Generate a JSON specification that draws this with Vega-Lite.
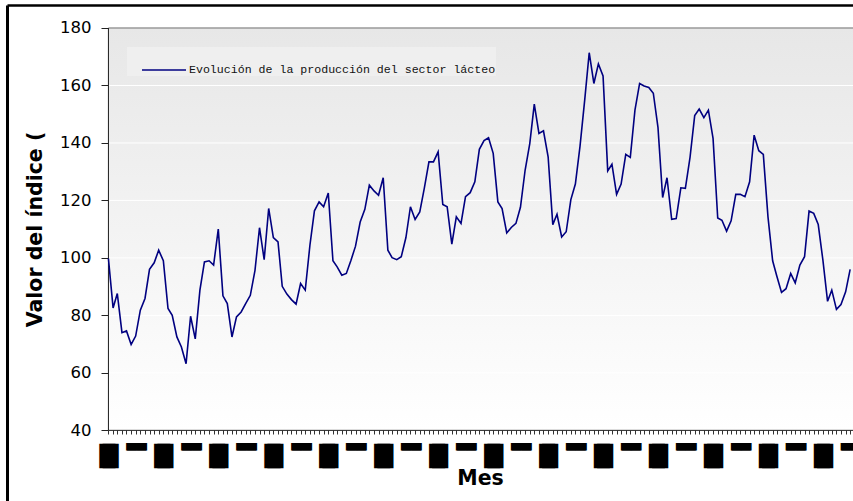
{
  "$schema": "https://vega.github.io/schema/vega-lite/v6.json",
  "width": 846,
  "height": 496,
  "autosize": {"type": "none"},
  "padding": {"left": 7, "top": 5, "right": 0, "bottom": 0},
  "background": "white",
  "config": {"view": {"stroke": null}},
  "data": {"values": [
    {"mes": "1994-01-01", "indice": 99.8}, {"mes": "1994-02-01", "indice": 82.6}, {"mes": "1994-03-01", "indice": 87.6}, {"mes": "1994-04-01", "indice": 74.0}, {"mes": "1994-05-01", "indice": 74.6}, {"mes": "1994-06-01", "indice": 69.9}, {"mes": "1994-07-01", "indice": 72.8}, {"mes": "1994-08-01", "indice": 81.8}, {"mes": "1994-09-01", "indice": 85.9}, {"mes": "1994-10-01", "indice": 96.0}, {"mes": "1994-11-01", "indice": 98.3}, {"mes": "1994-12-01", "indice": 102.7},
    {"mes": "1995-01-01", "indice": 99.0}, {"mes": "1995-02-01", "indice": 82.4}, {"mes": "1995-03-01", "indice": 80.0}, {"mes": "1995-04-01", "indice": 72.5}, {"mes": "1995-05-01", "indice": 69.0}, {"mes": "1995-06-01", "indice": 63.2}, {"mes": "1995-07-01", "indice": 79.7}, {"mes": "1995-08-01", "indice": 71.8}, {"mes": "1995-09-01", "indice": 88.8}, {"mes": "1995-10-01", "indice": 98.6}, {"mes": "1995-11-01", "indice": 99.0}, {"mes": "1995-12-01", "indice": 97.5},
    {"mes": "1996-01-01", "indice": 110.0}, {"mes": "1996-02-01", "indice": 86.8}, {"mes": "1996-03-01", "indice": 84.1}, {"mes": "1996-04-01", "indice": 72.5}, {"mes": "1996-05-01", "indice": 79.5}, {"mes": "1996-06-01", "indice": 81.2}, {"mes": "1996-07-01", "indice": 84.1}, {"mes": "1996-08-01", "indice": 87.0}, {"mes": "1996-09-01", "indice": 95.7}, {"mes": "1996-10-01", "indice": 110.5}, {"mes": "1996-11-01", "indice": 99.4}, {"mes": "1996-12-01", "indice": 117.2},
    {"mes": "1997-01-01", "indice": 107.1}, {"mes": "1997-02-01", "indice": 105.6}, {"mes": "1997-03-01", "indice": 90.1}, {"mes": "1997-04-01", "indice": 87.4}, {"mes": "1997-05-01", "indice": 85.5}, {"mes": "1997-06-01", "indice": 83.9}, {"mes": "1997-07-01", "indice": 91.1}, {"mes": "1997-08-01", "indice": 88.8}, {"mes": "1997-09-01", "indice": 104.4}, {"mes": "1997-10-01", "indice": 116.4}, {"mes": "1997-11-01", "indice": 119.5}, {"mes": "1997-12-01", "indice": 117.8},
    {"mes": "1998-01-01", "indice": 122.6}, {"mes": "1998-02-01", "indice": 99.0}, {"mes": "1998-03-01", "indice": 96.9}, {"mes": "1998-04-01", "indice": 94.0}, {"mes": "1998-05-01", "indice": 94.6}, {"mes": "1998-06-01", "indice": 99.2}, {"mes": "1998-07-01", "indice": 104.1}, {"mes": "1998-08-01", "indice": 112.5}, {"mes": "1998-09-01", "indice": 116.9}, {"mes": "1998-10-01", "indice": 125.3}, {"mes": "1998-11-01", "indice": 123.3}, {"mes": "1998-12-01", "indice": 121.8},
    {"mes": "1999-01-01", "indice": 127.9}, {"mes": "1999-02-01", "indice": 102.7}, {"mes": "1999-03-01", "indice": 100.1}, {"mes": "1999-04-01", "indice": 99.4}, {"mes": "1999-05-01", "indice": 100.4}, {"mes": "1999-06-01", "indice": 107.1}, {"mes": "1999-07-01", "indice": 117.8}, {"mes": "1999-08-01", "indice": 113.4}, {"mes": "1999-09-01", "indice": 116.0}, {"mes": "1999-10-01", "indice": 124.2}, {"mes": "1999-11-01", "indice": 133.4}, {"mes": "1999-12-01", "indice": 133.4},
    {"mes": "2000-01-01", "indice": 136.9}, {"mes": "2000-02-01", "indice": 118.6}, {"mes": "2000-03-01", "indice": 117.8}, {"mes": "2000-04-01", "indice": 104.8}, {"mes": "2000-05-01", "indice": 114.3}, {"mes": "2000-06-01", "indice": 112.0}, {"mes": "2000-07-01", "indice": 121.3}, {"mes": "2000-08-01", "indice": 122.7}, {"mes": "2000-09-01", "indice": 126.5}, {"mes": "2000-10-01", "indice": 137.8}, {"mes": "2000-11-01", "indice": 140.8}, {"mes": "2000-12-01", "indice": 141.8},
    {"mes": "2001-01-01", "indice": 136.4}, {"mes": "2001-02-01", "indice": 119.5}, {"mes": "2001-03-01", "indice": 117.2}, {"mes": "2001-04-01", "indice": 108.7}, {"mes": "2001-05-01", "indice": 110.6}, {"mes": "2001-06-01", "indice": 112.0}, {"mes": "2001-07-01", "indice": 117.6}, {"mes": "2001-08-01", "indice": 130.5}, {"mes": "2001-09-01", "indice": 139.8}, {"mes": "2001-10-01", "indice": 153.5}, {"mes": "2001-11-01", "indice": 143.3}, {"mes": "2001-12-01", "indice": 144.2},
    {"mes": "2002-01-01", "indice": 135.2}, {"mes": "2002-02-01", "indice": 111.6}, {"mes": "2002-03-01", "indice": 115.2}, {"mes": "2002-04-01", "indice": 107.3}, {"mes": "2002-05-01", "indice": 109.1}, {"mes": "2002-06-01", "indice": 120.3}, {"mes": "2002-07-01", "indice": 125.7}, {"mes": "2002-08-01", "indice": 138.9}, {"mes": "2002-09-01", "indice": 154.9}, {"mes": "2002-10-01", "indice": 171.4}, {"mes": "2002-11-01", "indice": 160.7}, {"mes": "2002-12-01", "indice": 167.5},
    {"mes": "2003-01-01", "indice": 163.3}, {"mes": "2003-02-01", "indice": 130.3}, {"mes": "2003-03-01", "indice": 132.6}, {"mes": "2003-04-01", "indice": 122.1}, {"mes": "2003-05-01", "indice": 125.7}, {"mes": "2003-06-01", "indice": 136.0}, {"mes": "2003-07-01", "indice": 135.0}, {"mes": "2003-08-01", "indice": 151.4}, {"mes": "2003-09-01", "indice": 160.7}, {"mes": "2003-10-01", "indice": 159.8}, {"mes": "2003-11-01", "indice": 159.3}, {"mes": "2003-12-01", "indice": 157.3},
    {"mes": "2004-01-01", "indice": 145.4}, {"mes": "2004-02-01", "indice": 121.0}, {"mes": "2004-03-01", "indice": 127.9}, {"mes": "2004-04-01", "indice": 113.4}, {"mes": "2004-05-01", "indice": 113.7}, {"mes": "2004-06-01", "indice": 124.4}, {"mes": "2004-07-01", "indice": 124.2}, {"mes": "2004-08-01", "indice": 135.0}, {"mes": "2004-09-01", "indice": 149.5}, {"mes": "2004-10-01", "indice": 151.8}, {"mes": "2004-11-01", "indice": 148.8}, {"mes": "2004-12-01", "indice": 151.4},
    {"mes": "2005-01-01", "indice": 141.6}, {"mes": "2005-02-01", "indice": 113.9}, {"mes": "2005-03-01", "indice": 113.1}, {"mes": "2005-04-01", "indice": 109.3}, {"mes": "2005-05-01", "indice": 112.9}, {"mes": "2005-06-01", "indice": 122.1}, {"mes": "2005-07-01", "indice": 122.1}, {"mes": "2005-08-01", "indice": 121.3}, {"mes": "2005-09-01", "indice": 126.5}, {"mes": "2005-10-01", "indice": 142.7}, {"mes": "2005-11-01", "indice": 137.3}, {"mes": "2005-12-01", "indice": 136.0},
    {"mes": "2006-01-01", "indice": 114.3}, {"mes": "2006-02-01", "indice": 99.0}, {"mes": "2006-03-01", "indice": 93.6}, {"mes": "2006-04-01", "indice": 88.0}, {"mes": "2006-05-01", "indice": 89.3}, {"mes": "2006-06-01", "indice": 94.6}, {"mes": "2006-07-01", "indice": 91.3}, {"mes": "2006-08-01", "indice": 97.5}, {"mes": "2006-09-01", "indice": 100.4}, {"mes": "2006-10-01", "indice": 116.3}, {"mes": "2006-11-01", "indice": 115.5}, {"mes": "2006-12-01", "indice": 111.6},
    {"mes": "2007-01-01", "indice": 99.2}, {"mes": "2007-02-01", "indice": 84.9}, {"mes": "2007-03-01", "indice": 88.8}, {"mes": "2007-04-01", "indice": 82.1}, {"mes": "2007-05-01", "indice": 83.8}, {"mes": "2007-06-01", "indice": 88.2}, {"mes": "2007-07-01", "indice": 96.0}
  ]},
  "layer": [
    {
      "data": {"values": [{}]},
      "mark": {"type": "rect", "fill": {"gradient": "linear", "x1": 0, "y1": 0, "x2": 0, "y2": 1, "stops": [{"offset": 0, "color": "#e7e7e7"}, {"offset": 1, "color": "#ffffff"}]}},
      "encoding": {
        "x": {"datum": {"year": 1994, "month": 1, "date": 1, "utc": true}, "type": "temporal",
              "scale": {"type": "utc", "domain": [{"year": 1992, "month": 2, "date": 27, "utc": true}, {"year": 2007, "month": 7, "date": 20, "utc": true}]},
              "axis": {"orient": "top", "labels": false, "ticks": false, "grid": false, "title": null, "domain": true, "domainColor": "#000000", "domainWidth": 2.5}},
        "x2": {"datum": {"year": 2007, "month": 7, "date": 20, "utc": true}},
        "y": {"datum": 180, "type": "quantitative", "scale": {"domain": [15.42, 188.0], "nice": false, "zero": false},
              "axis": {"orient": "left", "labels": false, "ticks": false, "grid": false, "title": null, "domain": true, "domainColor": "#000000", "domainWidth": 3}},
        "y2": {"datum": 40}
      }
    },
    {
      "data": {"values": [{"v": 60}, {"v": 80}, {"v": 100}, {"v": 120}, {"v": 140}, {"v": 160}]},
      "mark": {"type": "rule", "color": "#ffffff", "strokeWidth": 1},
      "encoding": {
        "x": {"datum": {"year": 1994, "month": 1, "date": 1, "utc": true}, "type": "temporal",
              "axis": {"orient": "bottom", "offset": -71, "domain": false, "grid": false, "ticks": false,
                       "tickCount": {"interval": "month", "step": 1},
                       "labelExpr": "datum.value < utc(1993,11,20) ? '' : (utcmonth(datum.value) == 0 ? '█' : (utcmonth(datum.value) == 6 ? '▀▀' : ''))",
                       "labelFont": "DejaVu Sans",
                       "labelFontSize": {"condition": {"test": "utcmonth(datum.value) == 0", "value": 20.5}, "value": 12.9},
                       "labelPadding": {"condition": {"test": "utcmonth(datum.value) == 0", "value": 16.4}, "value": 14.8},
                       "labelOffset": {"condition": {"test": "utcmonth(datum.value) == 0", "value": 1.6}, "value": 0.8},
                       "labelBaseline": "top", "labelAlign": "center", "labelColor": "#000000",
                       "labelOverlap": false, "labelFlush": false, "labelBound": false, "title": null}},
        "x2": {"datum": {"year": 2007, "month": 7, "date": 20, "utc": true}},
        "y": {"field": "v", "type": "quantitative", "axis": null}
      }
    },
    {
      "layer": [
        {
          "data": {"values": [{}]},
          "mark": {"type": "rule", "color": "#9a9a9a", "strokeWidth": 1.5},
          "encoding": {
            "x": {"datum": {"year": 1994, "month": 1, "date": 1, "utc": true}, "type": "temporal",
                  "axis": {"orient": "bottom", "offset": -71, "domain": false, "grid": false,
                           "tickCount": {"interval": "month", "step": 1},
                           "tickSize": 4, "tickColor": "#333333", "tickWidth": 1,
                           "tickOpacity": {"condition": {"test": "datum.value < utc(1993,11,20)", "value": 0}, "value": 1},
                           "labelExpr": "datum.value < utc(1993,11,20) ? '' : (utcmonth(datum.value) == 0 ? '█' : (utcmonth(datum.value) == 6 ? '▀▀' : ''))",
                           "labelFont": "DejaVu Sans",
                           "labelFontSize": {"condition": {"test": "utcmonth(datum.value) == 0", "value": 20.5}, "value": 12.9},
                           "labelPadding": {"condition": {"test": "utcmonth(datum.value) == 0", "value": 12.4}, "value": 10.8},
                           "labelOffset": {"condition": {"test": "utcmonth(datum.value) == 0", "value": -1.6}, "value": 0},
                           "labelBaseline": "top", "labelAlign": "center", "labelColor": "#000000",
                           "labelOverlap": false, "labelFlush": false, "labelBound": false,
                           "title": "Mes", "titleFont": "DejaVu Sans", "titleFontSize": 20.5, "titleFontWeight": "bold", "titleColor": "#000000",
                           "titleX": 473, "titleY": 54.5, "titleBaseline": "alphabetic", "titleAlign": "center", "titleAngle": 0}},
            "x2": {"datum": {"year": 2007, "month": 7, "date": 20, "utc": true}},
            "y": {"datum": 180, "type": "quantitative",
                  "axis": {"orient": "left", "offset": -101, "domain": false, "grid": false,
                           "values": [40, 60, 80, 100, 120, 140, 160, 180],
                           "tickSize": 7, "tickColor": "#222222", "tickWidth": 1,
                           "labelFont": "DejaVu Sans", "labelFontSize": 16.5, "labelColor": "#000000", "labelPadding": 10,
                           "title": "Valor del índice (", "titleFont": "DejaVu Sans", "titleFontSize": 20.5, "titleFontWeight": "bold", "titleColor": "#000000",
                           "titleX": -63, "titleY": 224, "titleAngle": -90, "titleBaseline": "bottom", "titleAlign": "center"}}
          }
        },
        {
          "data": {"values": [{}]},
          "mark": {"type": "rule", "color": "#1a1a1a", "strokeWidth": 1},
          "encoding": {
            "x": {"datum": {"year": 1994, "month": 1, "date": 1, "utc": true}, "type": "temporal"},
            "y": {"datum": 40, "type": "quantitative"},
            "y2": {"datum": 180}
          }
        },
        {
          "data": {"values": [{}]},
          "mark": {"type": "rule", "color": "#1a1a1a", "strokeWidth": 1},
          "encoding": {
            "x": {"datum": {"year": 1994, "month": 1, "date": 1, "utc": true}, "type": "temporal"},
            "x2": {"datum": {"year": 2007, "month": 7, "date": 20, "utc": true}},
            "y": {"datum": 40, "type": "quantitative"}
          }
        },
        {
          "mark": {"type": "line", "strokeWidth": 1.6, "interpolate": "linear"},
          "encoding": {
            "x": {"field": "mes", "type": "temporal"},
            "y": {"field": "indice", "type": "quantitative"},
            "color": {"datum": "Evolución de la producción del sector lácteo", "type": "nominal",
                      "scale": {"range": ["#000080"]},
                      "legend": {"orient": "none", "legendX": 120, "legendY": 42, "title": null,
                                 "fillColor": "#efefef", "strokeColor": null, "padding": 0,
                                 "symbolType": "stroke", "symbolSize": 1936, "symbolStrokeWidth": 1.6, "symbolOffset": 14,
                                 "labelFont": "Liberation Mono", "labelFontSize": 11.6, "labelColor": "#111111", "labelOffset": 2, "labelLimit": 500}}
          }
        }
      ]
    }
  ],
  "resolve": {"axis": {"x": "independent", "y": "independent"}}
}
